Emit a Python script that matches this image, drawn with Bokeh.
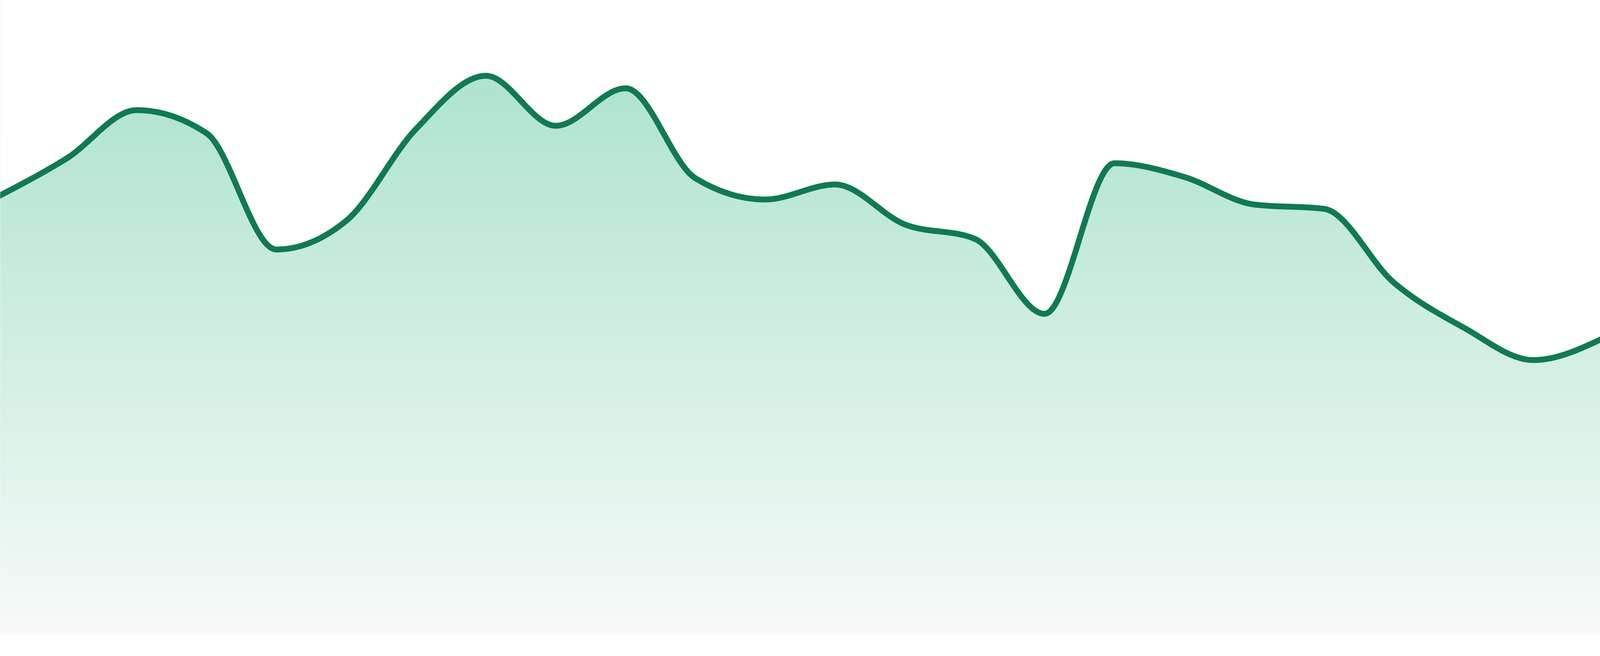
import numpy as np
from bokeh.plotting import figure
from bokeh.models import Range1d
from bokeh.embed import file_html
from bokeh.resources import INLINE

# ---- data ----
x_idx = list(range(24))
values = [70.0, 76.2, 83.9, 80.2, 61.6, 66.2, 80.9, 89.4, 81.4, 87.4, 73.0, 69.6,
          72.0, 65.6, 63.3, 51.3, 75.4, 73.2, 68.8, 68.1, 56.3, 49.1, 43.9, 47.4]

# ---- style ----
LINE_COLOR = "#117a52"
GRAD_TOP = (175, 228, 205)     # colour at value 89.5
GRAD_BOTTOM = (247, 250, 249)  # colour at value 0
GRAD_TOP_VALUE = 89.5

H = 1664


def monotone_curve(xs, ys, samples=60):
    """Monotone cubic (d3.curveMonotoneX) sampled densely."""
    x = np.asarray(xs, float)
    y = np.asarray(ys, float)
    n = len(x)
    t = np.zeros(n)
    for i in range(1, n - 1):
        h0 = x[i] - x[i - 1]
        h1 = x[i + 1] - x[i]
        s0 = (y[i] - y[i - 1]) / h0
        s1 = (y[i + 1] - y[i]) / h1
        p = (s0 * h1 + s1 * h0) / (h0 + h1)
        t[i] = (np.sign(s0) + np.sign(s1)) * min(abs(s0), abs(s1), 0.5 * abs(p))
    h = x[1] - x[0]
    t[0] = (3 * (y[1] - y[0]) / h - t[1]) / 2
    h = x[-1] - x[-2]
    t[-1] = (3 * (y[-1] - y[-2]) / h - t[-2]) / 2
    out_x, out_y = [x[0]], [y[0]]
    u = np.linspace(0, 1, samples + 1)[1:]
    for i in range(n - 1):
        dx = (x[i + 1] - x[i]) / 3
        P0 = np.array([x[i], y[i]])
        P1 = np.array([x[i] + dx, y[i] + dx * t[i]])
        P2 = np.array([x[i + 1] - dx, y[i + 1] - dx * t[i + 1]])
        P3 = np.array([x[i + 1], y[i + 1]])
        for uu in u:
            a = (1 - uu) ** 3
            b = 3 * (1 - uu) ** 2 * uu
            c = 3 * (1 - uu) * uu ** 2
            d = uu ** 3
            pt = a * P0 + b * P1 + c * P2 + d * P3
            out_x.append(pt[0])
            out_y.append(pt[1])
    return np.array(out_x), np.array(out_y)


cx, cy = monotone_curve(x_idx, values)

pad = 0.045
x_range = Range1d(x_idx[0] + pad, x_idx[-1] - pad)
y_range = Range1d(-2.5, 101.5)

p = figure(height=H, sizing_mode="stretch_width", x_range=x_range, y_range=y_range,
           output_backend="svg", toolbar_location=None,
           min_border=0, min_border_left=0, min_border_right=0,
           min_border_top=0, min_border_bottom=0)
p.axis.visible = False
p.grid.visible = False
p.outline_line_color = None
p.background_fill_color = "white"
p.border_fill_color = "white"

# vertical gradient image from value 0 up to the top of the range
top_val = y_range.end
rows = 600
vals = np.linspace(0, top_val, rows)
frac = vals / GRAD_TOP_VALUE
img = np.empty((rows, 2), dtype=np.uint32)
view = img.view(dtype=np.uint8).reshape((rows, 2, 4))
for k in range(3):
    ch = GRAD_BOTTOM[k] + (GRAD_TOP[k] - GRAD_BOTTOM[k]) * frac
    ch = np.clip(ch, 0, 255).astype(np.uint8)
    view[:, 0, k] = ch
    view[:, 1, k] = ch
view[:, :, 3] = 255
p.image_rgba(image=[img], x=x_range.start - 1, y=0,
             dw=(x_range.end - x_range.start) + 2, dh=top_val)

# mask above the curve
p.varea(x=cx, y1=cy, y2=top_val + 5, fill_color="white", fill_alpha=1.0)

# the line
p.line(cx, cy, line_color=LINE_COLOR, line_width=15,
       line_join="round", line_cap="round")

open("out.html", "w").write(file_html(p, INLINE))
